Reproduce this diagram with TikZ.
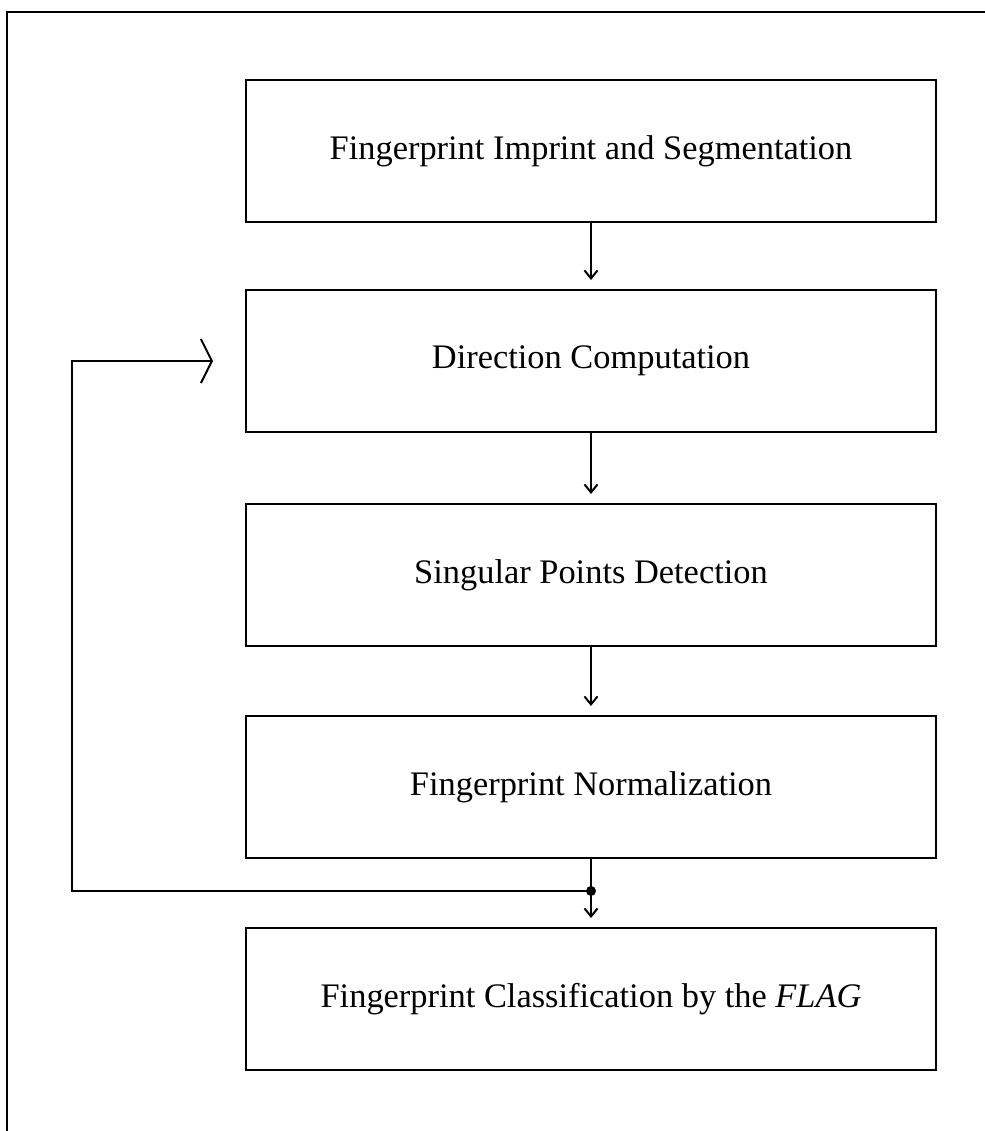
\documentclass[tikz,border=0pt]{standalone}
\usepackage{fontspec}
\setmainfont{Liberation Serif}
\usetikzlibrary{positioning,arrows.meta,calc}
\begin{document}
\begin{tikzpicture}[x=0.5pt,y=-0.5pt]
  \tikzstyle{stage}=[draw=black, line width=1pt, minimum width=345pt, minimum height=71pt, font=\fontsize{17.2}{20}\selectfont]
  \tikzstyle{flow}=[draw=black, line width=1pt, -{Straight Barb[length=4pt,width=6.5pt]}, shorten >=4.5pt]
  \tikzstyle{loop}=[draw=black, line width=1pt, -{Straight Barb[length=5.5pt,width=22pt]}]
  \useasboundingbox (0,0) rectangle (985,1131);
  \draw[line width=1pt] (985,12) -- (7,12) -- (7,1131);
  \node[stage] (imprint) at (591,151) {Fingerprint Imprint and Segmentation};
  \node[stage, below=33pt of imprint] (direction) {Direction Computation};
  \node[stage, below=35pt of direction] (singular) {Singular Points Detection};
  \node[stage, below=34pt of singular] (normal) {Fingerprint Normalization};
  \node[stage, below=34pt of normal] (classify) {Fingerprint Classification by the \textit{FLAG}};
  \draw[flow] (imprint) -- (direction);
  \draw[flow] (direction) -- (singular);
  \draw[flow] (singular) -- (normal);
  \draw[flow] (normal) -- (classify);
  % feedback loop
  \coordinate (split) at ($(normal.south)!0.47!(classify.north)$);
  \coordinate (corner) at (72,0);
  \coordinate (back) at ([xshift=-16pt]direction.west);
  \fill (split) circle (2.5pt);
  \draw[loop] (split) -- (split -| corner) -- (back -| corner) -- (back);
\end{tikzpicture}
\end{document}
